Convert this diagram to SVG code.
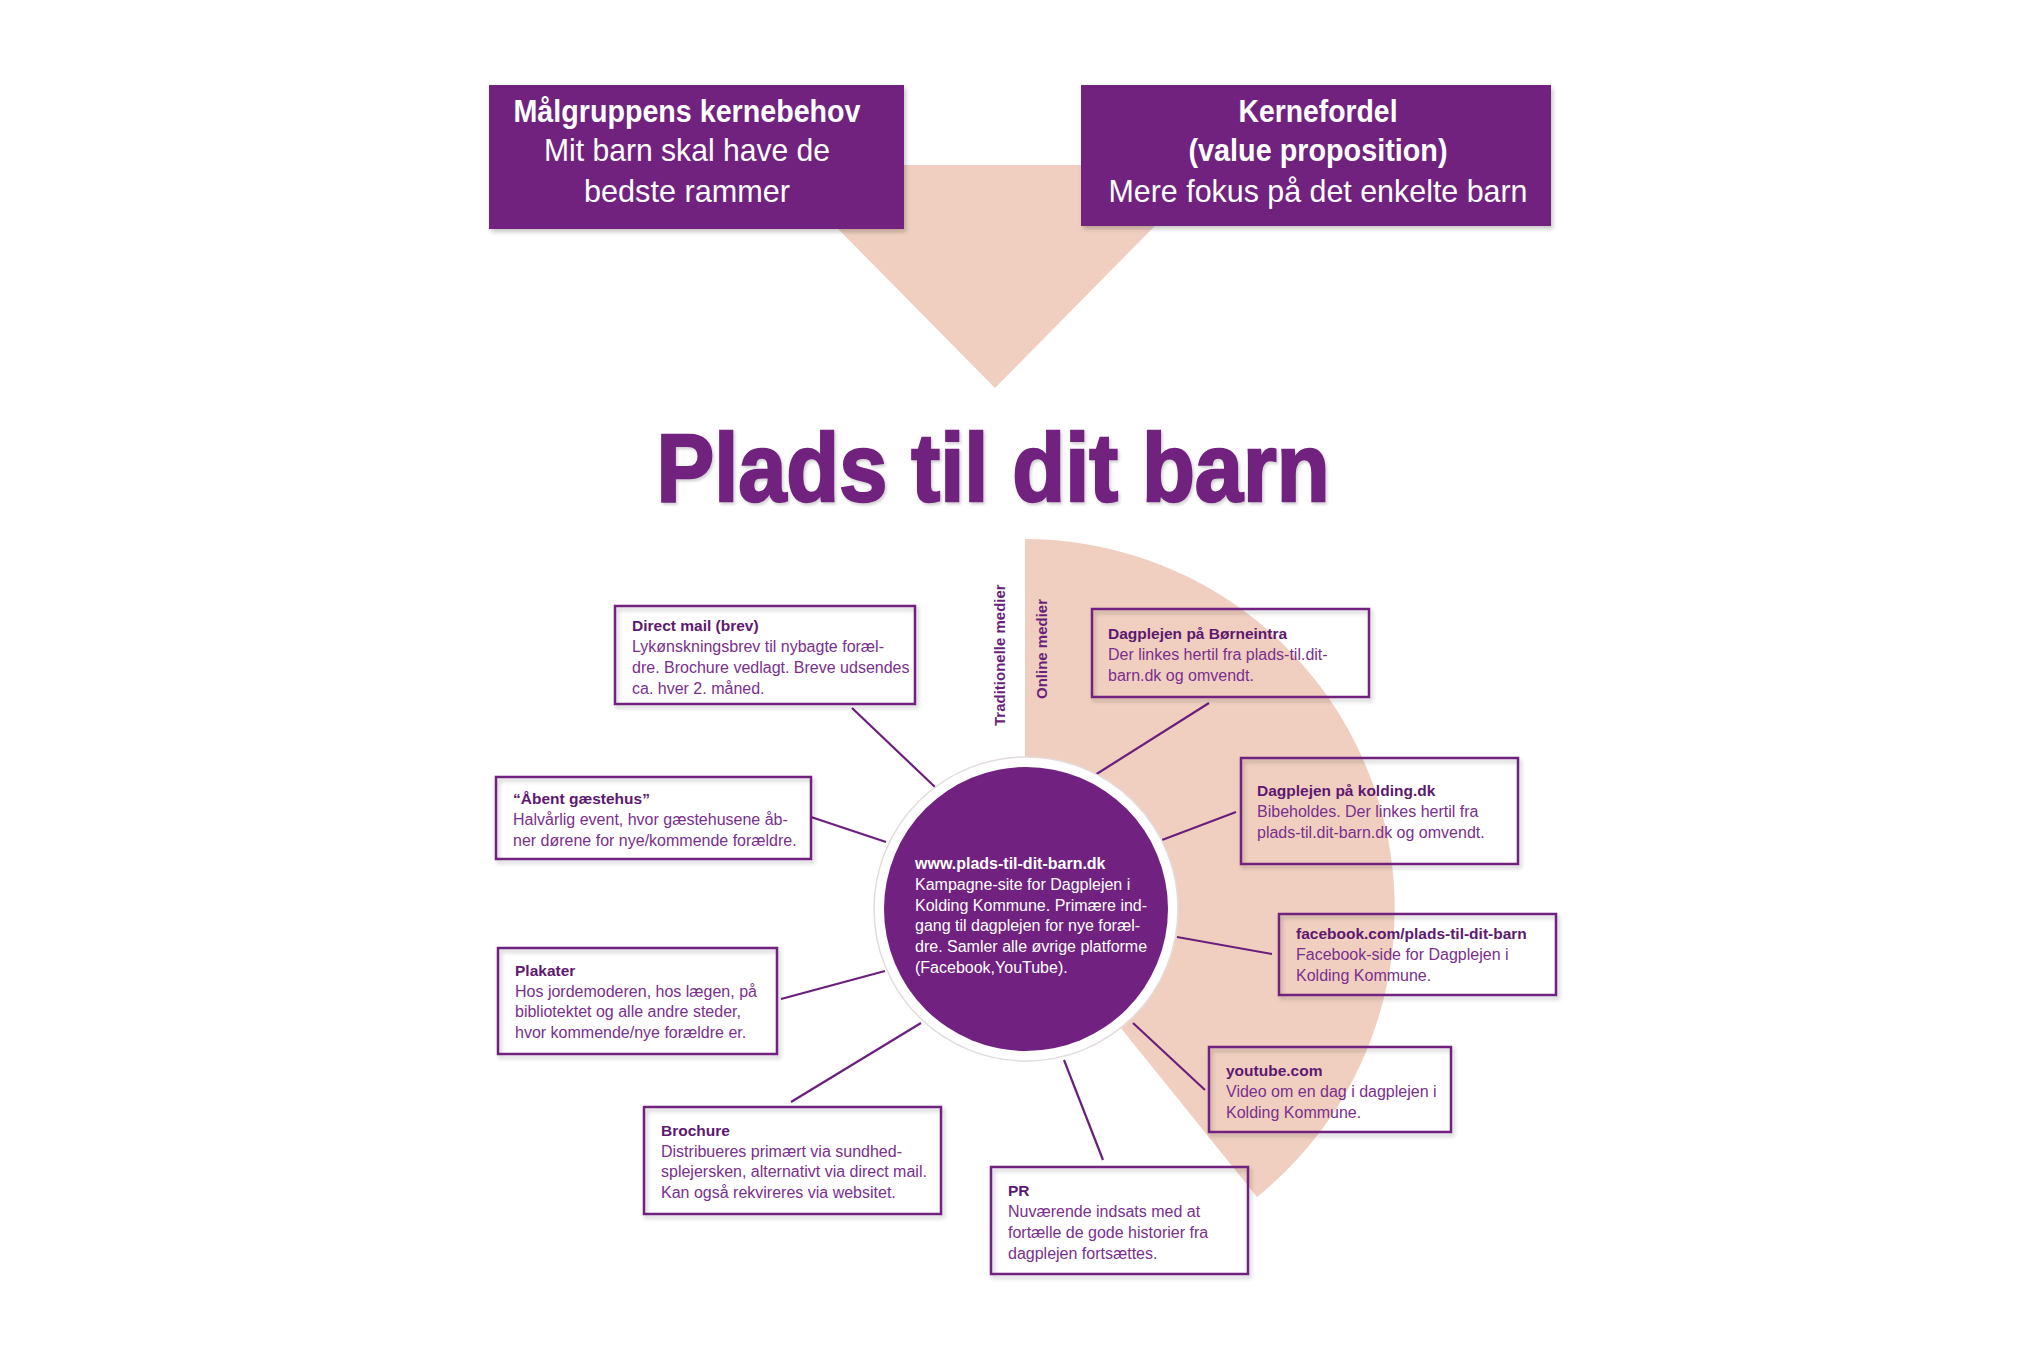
<svg xmlns="http://www.w3.org/2000/svg" width="2040" height="1360" viewBox="0 0 2040 1360">
<defs>
<filter id="sh" x="-5%" y="-5%" width="115%" height="120%">
<feDropShadow dx="2" dy="3" stdDeviation="2" flood-color="#000" flood-opacity="0.22"/>
</filter>
<filter id="tsh" x="-5%" y="-10%" width="110%" height="130%">
<feDropShadow dx="1.5" dy="2" stdDeviation="1.5" flood-color="#000" flood-opacity="0.2"/>
</filter>
</defs>
<style>
.hdr{fill:#71217f;filter:url(#sh)}
.ht{font-family:"Liberation Sans",Arial,sans-serif;font-size:32px;fill:#fff;text-anchor:middle}
.htb{font-weight:bold}
.box{fill:none;stroke:#71217f;stroke-width:2.5;filter:url(#sh)}
.bt{font-family:"Liberation Sans",Arial,sans-serif;font-size:15.5px;font-weight:bold;fill:#5e1870}
.bb{font-family:"Liberation Sans",Arial,sans-serif;font-size:16px;fill:#7a2f8d}
.con{stroke:#6a1f7c;stroke-width:2.2;fill:none}
.ct{font-family:"Liberation Sans",Arial,sans-serif;font-size:16px;fill:#fff}
.vt{font-family:"Liberation Sans",Arial,sans-serif;font-size:15px;font-weight:bold;fill:#6a1f7c}
</style>
<rect width="2040" height="1360" fill="#fff"/>

<!-- funnel triangle -->
<polygon points="775,165 1215,165 995,388" fill="#f0cfc0"/>

<!-- online media sector -->
<path d="M1025,909 L1025,539 A370,370 0 0 1 1257,1197 Z" fill="#f0cfc0"/>

<!-- top boxes -->
<g id="kernebehov">
<rect class="hdr" x="489" y="85" width="415" height="144"/>
<text class="ht htb" x="687" y="122" textLength="347" lengthAdjust="spacingAndGlyphs">Målgruppens kernebehov</text>
<text class="ht" x="687" y="161" textLength="286" lengthAdjust="spacingAndGlyphs">Mit barn skal have de</text>
<text class="ht" x="687" y="202" textLength="206" lengthAdjust="spacingAndGlyphs">bedste rammer</text>
</g>
<g id="kernefordel">
<rect class="hdr" x="1081" y="85" width="470" height="141"/>
<text class="ht htb" x="1318" y="122" textLength="159" lengthAdjust="spacingAndGlyphs">Kernefordel</text>
<text class="ht htb" x="1318" y="161" textLength="259" lengthAdjust="spacingAndGlyphs">(value proposition)</text>
<text class="ht" x="1318" y="202" textLength="419" lengthAdjust="spacingAndGlyphs">Mere fokus på det enkelte barn</text>
</g>

<!-- title -->
<g id="title">
<text x="993" y="501" text-anchor="middle" font-family="'Liberation Sans',Arial,sans-serif" font-size="96" font-weight="bold" fill="#71217f" stroke="#71217f" stroke-width="2.5" textLength="673" lengthAdjust="spacingAndGlyphs" filter="url(#tsh)">Plads til dit barn</text>
</g>

<!-- vertical labels -->
<g id="labels">
<text class="vt" transform="translate(1005,726) rotate(-90)">Traditionelle  medier</text>
<text class="vt" transform="translate(1047,699) rotate(-90)">Online medier</text>
</g>

<!-- connectors -->
<g id="connectors">
<line class="con" x1="852" y1="708" x2="935" y2="787"/>
<line class="con" x1="811" y1="817" x2="886" y2="842"/>
<line class="con" x1="781" y1="999" x2="885" y2="971"/>
<line class="con" x1="791" y1="1102" x2="921" y2="1023"/>
<line class="con" x1="1103" y1="1160" x2="1064" y2="1060"/>
<line class="con" x1="1209" y1="703" x2="1095" y2="775"/>
<line class="con" x1="1236" y1="812" x2="1162" y2="840"/>
<line class="con" x1="1272" y1="954" x2="1177" y2="937"/>
<line class="con" x1="1205" y1="1090" x2="1133" y2="1023"/>
</g>

<!-- center -->
<g id="center">
<circle cx="1026" cy="909" r="152" fill="#fff" stroke="#e2dcdc" stroke-width="1.5"/>
<circle cx="1026" cy="909" r="142" fill="#71217f"/>
<text class="ct" x="915" y="869" font-size="19" font-weight="bold">www.plads-til-dit-barn.dk</text>
<text class="ct" x="915" y="890">Kampagne-site for Dagplejen i</text>
<text class="ct" x="915" y="911">Kolding Kommune. Primære ind-</text>
<text class="ct" x="915" y="931">gang til dagplejen for nye foræl-</text>
<text class="ct" x="915" y="952">dre. Samler alle øvrige platforme</text>
<text class="ct" x="915" y="973">(Facebook,YouTube).</text>
</g>

<!-- traditional media -->
<g id="directmail">
<rect class="box" x="615" y="606" width="300" height="98"/>
<text class="bt" x="632" y="631">Direct mail (brev)</text>
<text class="bb" x="632" y="652">Lykønskningsbrev til nybagte foræl-</text>
<text class="bb" x="632" y="673">dre. Brochure vedlagt. Breve udsendes</text>
<text class="bb" x="632" y="694">ca. hver 2. måned.</text>
</g>
<g id="aabentgaestehus">
<rect class="box" x="496" y="777" width="315" height="82"/>
<text class="bt" x="513" y="804">“Åbent gæstehus”</text>
<text class="bb" x="513" y="825">Halvårlig event, hvor gæstehusene åb-</text>
<text class="bb" x="513" y="846">ner dørene for nye/kommende forældre.</text>
</g>
<g id="plakater">
<rect class="box" x="498" y="948" width="279" height="106"/>
<text class="bt" x="515" y="976">Plakater</text>
<text class="bb" x="515" y="997">Hos jordemoderen, hos lægen, på</text>
<text class="bb" x="515" y="1017">bibliotektet og alle andre steder,</text>
<text class="bb" x="515" y="1038">hvor kommende/nye forældre er.</text>
</g>
<g id="brochure">
<rect class="box" x="644" y="1107" width="297" height="107"/>
<text class="bt" x="661" y="1136">Brochure</text>
<text class="bb" x="661" y="1157">Distribueres primært via sundhed-</text>
<text class="bb" x="661" y="1177">splejersken, alternativt via direct mail.</text>
<text class="bb" x="661" y="1198">Kan også rekvireres via websitet.</text>
</g>
<g id="pr">
<rect class="box" x="991" y="1167" width="257" height="107"/>
<text class="bt" x="1008" y="1196">PR</text>
<text class="bb" x="1008" y="1217">Nuværende indsats med at</text>
<text class="bb" x="1008" y="1238">fortælle de gode historier fra</text>
<text class="bb" x="1008" y="1259">dagplejen fortsættes.</text>
</g>

<!-- online media -->
<g id="boerneintra">
<rect class="box" x="1092" y="609" width="277" height="88"/>
<text class="bt" x="1108" y="639">Dagplejen på Børneintra</text>
<text class="bb" x="1108" y="660">Der linkes hertil fra plads-til.dit-</text>
<text class="bb" x="1108" y="681">barn.dk og omvendt.</text>
</g>
<g id="koldingdk">
<rect class="box" x="1241" y="758" width="277" height="106"/>
<text class="bt" x="1257" y="796">Dagplejen på kolding.dk</text>
<text class="bb" x="1257" y="817">Bibeholdes. Der linkes hertil fra</text>
<text class="bb" x="1257" y="838">plads-til.dit-barn.dk og omvendt.</text>
</g>
<g id="facebook">
<rect class="box" x="1279" y="914" width="277" height="81"/>
<text class="bt" x="1296" y="939">facebook.com/plads-til-dit-barn</text>
<text class="bb" x="1296" y="960">Facebook-side for Dagplejen i</text>
<text class="bb" x="1296" y="981">Kolding Kommune.</text>
</g>
<g id="youtube">
<rect class="box" x="1209" y="1047" width="242" height="85"/>
<text class="bt" x="1226" y="1076">youtube.com</text>
<text class="bb" x="1226" y="1097">Video om en dag i dagplejen i</text>
<text class="bb" x="1226" y="1118">Kolding Kommune.</text>
</g>
</svg>
